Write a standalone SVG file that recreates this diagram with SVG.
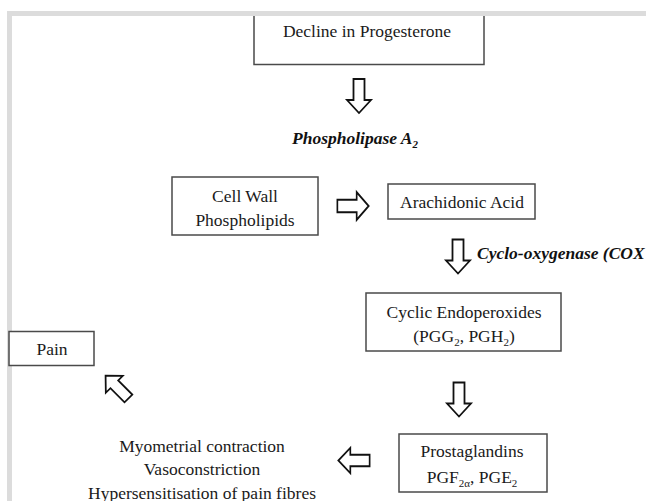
<svg xmlns="http://www.w3.org/2000/svg" width="646" height="501" viewBox="0 0 646 501">
<defs>
<style>
.box{fill:#fff;stroke:#4a4a4a;stroke-width:1.5}
.t{font-family:"Liberation Serif","Times New Roman",serif;font-size:17.5px;fill:#1a1a1a;text-anchor:middle}
.bi{font-family:"Liberation Serif","Times New Roman",serif;font-size:17.5px;font-weight:bold;font-style:italic;fill:#111}
.sub{font-size:11px}
.arr{fill:#fff;stroke:#111;stroke-width:1.8;stroke-linejoin:miter}
.frame{fill:#dcdcdc}
</style>
<path id="ad" d="M-5.5,-17 H5.5 V4 H12 L0,17 L-12,4 H-5.5 Z"/>
</defs>
<rect width="646" height="501" fill="#fff"/>
<g id="n-decline">
<rect class="box" x="254" y="13" width="230" height="51.5"/>
<text class="t" x="367" y="37">Decline in Progesterone</text>
</g>
<rect class="frame" x="7" y="11" width="639" height="5"/>
<rect class="frame" x="7" y="11" width="5" height="490"/>
<g id="n-pla2">
<text class="bi" x="292" y="144">Phospholipase A<tspan class="sub" dy="4">2</tspan></text>
</g>
<g id="n-cellwall">
<rect class="box" x="172" y="177" width="146" height="58"/>
<text class="t" x="245" y="202">Cell Wall</text>
<text class="t" x="245" y="226">Phospholipids</text>
</g>
<g id="n-arachidonic">
<rect class="box" x="388" y="184" width="147" height="35"/>
<text class="t" x="462" y="208">Arachidonic Acid</text>
</g>
<g id="n-cox">
<text class="bi" x="477" y="259">Cyclo-oxygenase (COX</text>
</g>
<g id="n-cyclic">
<rect class="box" x="366" y="293" width="195" height="58"/>
<text class="t" x="464" y="318">Cyclic Endoperoxides</text>
<text class="t" x="464" y="342">(PGG<tspan class="sub" dy="4">2</tspan><tspan dy="-4">, PGH</tspan><tspan class="sub" dy="4">2</tspan><tspan dy="-4">)</tspan></text>
</g>
<g id="n-pain">
<rect class="box" x="9" y="331.5" width="85" height="34"/>
<text class="t" x="52" y="355">Pain</text>
</g>
<g id="n-prostaglandins">
<rect class="box" x="399" y="434" width="148" height="58"/>
<text class="t" x="472" y="457">Prostaglandins</text>
<text class="t" x="472" y="483">PGF<tspan class="sub" dy="4">2α</tspan><tspan dy="-4">, PGE</tspan><tspan class="sub" dy="4">2</tspan></text>
</g>
<g id="n-effects">
<text class="t" x="202" y="452">Myometrial contraction</text>
<text class="t" x="202" y="475">Vasoconstriction</text>
<text class="t" x="202" y="499">Hypersensitisation of pain fibres</text>
</g>
<g id="connectors">
<use href="#ad" class="arr" transform="translate(359,96)"/>
<use href="#ad" class="arr" transform="translate(353,206) rotate(-90) scale(1.15,0.92)"/>
<use href="#ad" class="arr" transform="translate(458,256.5)"/>
<use href="#ad" class="arr" transform="translate(459,399.5)"/>
<use href="#ad" class="arr" transform="translate(354,460.5) rotate(90) scale(1.05,0.92)"/>
<use href="#ad" class="arr" transform="translate(117,387) rotate(135) scale(1,0.95)"/>
</g>
</svg>
